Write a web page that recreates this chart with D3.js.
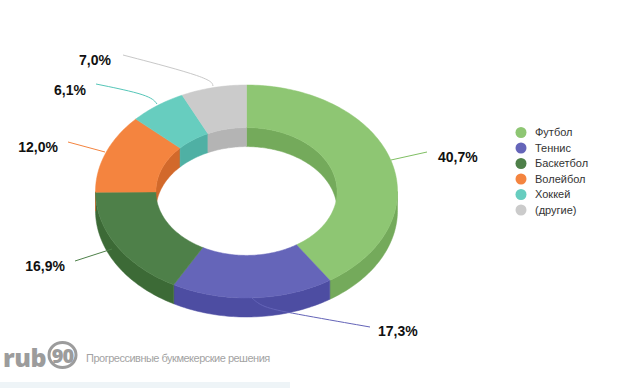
<!DOCTYPE html>
<html><head><meta charset="utf-8">
<script src="https://cdn.jsdelivr.net/npm/d3@7"></script>
<style>body{margin:0;background:#fff}svg{display:block}</style>
</head><body>
<script>
const categories = ["Футбол","Теннис","Баскетбол","Волейбол","Хоккей","(другие)"];
const values = [40.7, 17.3, 16.9, 12.0, 6.1, 7.0];
const labels = ["40,7%","17,3%","16,9%","12,0%","6,1%","7,0%"];
const topColors = ["#8ec673","#6565b9","#4e8049","#f4843f","#67cdbf","#cbcbcb"];
const sideColors = ["#74aa5b","#4d4da2","#3c6a36","#d2692b","#4fb0a4","#b4b4b4"];
const lineColors = ["#7fbf63","#6464b8","#4e8049","#f4843f","#55c6b8","#c8c8c8"];

const W = 618, H = 388;
const svg = d3.select("body").append("svg").attr("width", W).attr("height", H);

// watermark
const wm = svg.append("g");
wm.append("rect").attr("x",0).attr("y",382).attr("width",290).attr("height",6).attr("fill","#eef4f7");
wm.append("text").attr("x",3).attr("y",367).attr("font-family","Open Sans, Liberation Sans").attr("font-weight",800)
  .attr("font-size",25).attr("fill","#9c9c9c").attr("letter-spacing",-0.5).text("rub");
wm.append("ellipse").attr("cx",62.5).attr("cy",355).attr("rx",13.5).attr("ry",12.5).attr("fill","none")
  .attr("stroke","#9c9c9c").attr("stroke-width",3);
wm.append("text").attr("x",62.5).attr("y",362.5).attr("text-anchor","middle").attr("font-family","Open Sans, Liberation Sans")
  .attr("font-weight",800).attr("font-size",20).attr("fill","#9c9c9c").attr("letter-spacing",-1).text("90");
wm.append("text").attr("x",86).attr("y",362).attr("font-family","Liberation Sans, Arial").attr("font-size",11)
  .attr("letter-spacing",-0.5).attr("fill","#a3a3a3").text("Прогрессивные букмекерские решения");

// donut geometry
const cx = 246.5, cy = 191.5, rx = 151, ry = 106.5, ratio = 0.6, depth = 19;
const pie = d3.pie().sort(null).value(d => d)(values);
const xs = d3.scaleLinear().domain([-1,1]).range([cx - rx, cx + rx]);
const ys = d3.scaleLinear().domain([-1,1]).range([cy - ry, cy + ry]);
const pt = (a, r, dz) => [xs(r*Math.sin(a)), ys(-r*Math.cos(a)) + (dz||0)];
const line = d3.line();
function arcPts(a0, a1, r, dz) {
  const n = Math.max(2, Math.ceil(Math.abs(a1-a0)/0.02));
  return d3.range(n+1).map(i => pt(a0 + (a1-a0)*i/n, r, dz));
}
function band(a0, a1, r1, dz1, r2, dz2) {
  return line(arcPts(a0,a1,r1,dz1).concat(arcPts(a1,a0,r2,dz2))) + "Z";
}
function clip(a0, a1, lo, hi) {
  const s = Math.max(a0, lo), e = Math.min(a1, hi);
  return s < e ? [s, e] : null;
}
const g = svg.append("g");
pie.forEach((d,i) => {
  [[-1, Math.PI/2],[3*Math.PI/2, 2*Math.PI+1]].forEach(([lo,hi]) => {
    const c = clip(d.startAngle, d.endAngle, lo, hi);
    if (c) g.append("path").attr("d", band(c[0],c[1],ratio,0,ratio,depth)).attr("fill", sideColors[i]).attr("stroke",sideColors[i]).attr("stroke-width",0.5);
  });
});
pie.forEach((d,i) => {
  const c = clip(d.startAngle, d.endAngle, Math.PI/2, 3*Math.PI/2);
  if (c) g.append("path").attr("d", band(c[0],c[1],1,0,1,depth)).attr("fill", sideColors[i]).attr("stroke",sideColors[i]).attr("stroke-width",0.5);
});
pie.forEach((d,i) => {
  g.append("path").attr("d", band(d.startAngle,d.endAngle,1,0,ratio,0)).attr("fill", topColors[i]).attr("stroke",topColors[i]).attr("stroke-width",0.5);
});

const leaders = [
  {pts:[[391,160],[427,152]], lx:438, ly:157, anchor:"start"},
  {pts:[[252,298],[262,307],[290,313],[370,327]], lx:378, ly:331, anchor:"start"},
  {pts:[[112,249],[75,261]], lx:65, ly:266, anchor:"end"},
  {pts:[[105,152],[68,142]], lx:58, ly:147, anchor:"end"},
  {pts:[[157,104],[150,95],[96,84]], lx:86, ly:90, anchor:"end"},
  {pts:[[213,86],[211,78],[123,55]], lx:111, ly:60, anchor:"end"}
];
const curve = d3.line().curve(d3.curveBasis);
leaders.forEach((l,i) => {
  svg.append("path").attr("d", curve(l.pts)).attr("fill","none").attr("stroke", lineColors[i]).attr("stroke-width",1);
  svg.append("text").attr("x", l.lx).attr("y", l.ly).attr("dy","0.35em").attr("text-anchor", l.anchor)
    .attr("font-family","Liberation Sans, Arial").attr("font-weight","bold").attr("font-size",14).attr("fill","#111")
    .text(labels[i]);
});

const ly = d3.scalePoint().domain(categories).range([132.5, 210]);
const lg = svg.append("g");
categories.forEach((c,i) => {
  lg.append("circle").attr("cx",521).attr("cy",ly(c)).attr("r",5.5).attr("fill",topColors[i]);
  lg.append("text").attr("x",535).attr("y",ly(c)).attr("dy","0.35em").attr("font-family","Liberation Sans, Arial")
    .attr("font-size",11).attr("fill","#333").text(c);
});
</script>
</body></html>
